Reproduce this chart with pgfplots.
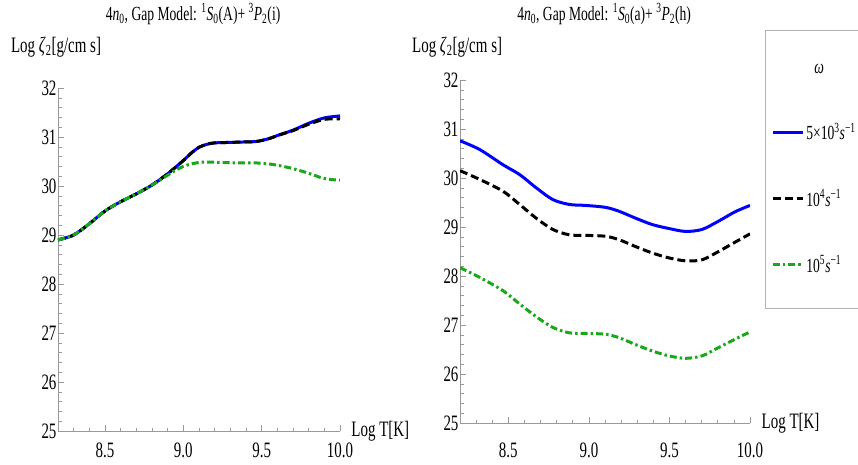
\documentclass[border=0pt]{standalone}
\usepackage{fontspec}
\setmainfont{Liberation Serif}[FakeStretch=0.68]
\usepackage{pgfplots}
\pgfplotsset{compat=1.18}
\definecolor{mgreen}{rgb}{0.1,0.66,0.1}
\pgfplotsset{
 myaxis/.style={
  scale only axis, axis lines=left, axis line style={-, draw=gray!80, line width=0.8pt},
  xmin=8.2, xmax=10, ymin=25, ymax=32,
  xtick={8.5,9,9.5,10},
  minor xtick={8.3,8.4,8.6,8.7,8.8,8.9,9.1,9.2,9.3,9.4,9.6,9.7,9.8,9.9},
  ytick={25,26,27,28,29,30,31,32},
  minor ytick={25.2,25.4,25.6,25.8,26.2,26.4,26.6,26.8,27.2,27.4,27.6,27.8,28.2,28.4,28.6,28.8,29.2,29.4,29.6,29.8,30.2,30.4,30.6,30.8,31.2,31.4,31.6,31.8},
  tick align=inside, tick style={gray!80, line width=0.6pt},
  major tick length=6pt, minor tick length=3.5pt,
  /pgf/number format/assume math mode=true,
  x tick label style={/pgf/number format/.cd, fixed, fixed zerofill, precision=1, /tikz/.cd, inner sep=1pt, yshift=-11pt},
  y tick label style={xshift=2pt},
  tick label style={font=\fontsize{22}{24}\selectfont},
  xlabel={Log T[K]}, ylabel={Log \textit{ζ}\textsubscript{2}[g/cm s]},
  title style={font=\fontsize{20}{22}\selectfont, anchor=center},
  every axis x label/.style={at={(axis description cs:1.028,0)}, anchor=west, font=\fontsize{22}{24}\selectfont},
  every axis y label/.style={at={(axis description cs:-0.007,1.12)}, anchor=center, font=\fontsize{22}{24}\selectfont},
  legend image code/.code={\draw[#1] (0pt,0pt) -- (30pt,0pt);},
 },
 bl/.style={blue, line width=3pt, smooth},
 bk/.style={black, line width=3pt, smooth, dash pattern=on 8pt off 4pt},
 gr/.style={mgreen, line width=3pt, smooth, dash pattern=on 7pt off 3pt on 2.5pt off 3pt},
}
\begin{document}
\begin{tikzpicture}
\useasboundingbox (0pt,0pt) rectangle (858pt,464pt);
\begin{axis}[myaxis, at={(58pt,33pt)}, anchor=south west, width=282pt, height=343pt,
  title={4\textit{n}\textsubscript{0}, Gap Model: \textsuperscript{1}\textit{S}\textsubscript{0}(A)+ \textsuperscript{3}\textit{P}\textsubscript{2}(i)},
  title style={at={(axis description cs:0.479,1.198)}}]
\addplot[bl] coordinates {(8.2,28.9) (8.3,29.0) (8.4,29.23) (8.5,29.49) (8.6,29.68) (8.7,29.84) (8.8,30.02) (8.9,30.25) (9.0,30.52) (9.05,30.67) (9.1,30.79) (9.15,30.85) (9.2,30.88) (9.3,30.89) (9.4,30.9) (9.47,30.91) (9.55,30.97) (9.6,31.03) (9.7,31.14) (9.8,31.28) (9.9,31.39) (10.0,31.43)};
\addplot[bk] coordinates {(8.2,28.9) (8.3,29.0) (8.4,29.23) (8.5,29.49) (8.6,29.68) (8.7,29.84) (8.8,30.02) (8.9,30.25) (9.0,30.52) (9.05,30.67) (9.1,30.79) (9.15,30.85) (9.2,30.88) (9.3,30.89) (9.4,30.9) (9.47,30.91) (9.55,30.97) (9.6,31.03) (9.7,31.13) (9.8,31.26) (9.9,31.36) (10.0,31.37)};
\addplot[gr] coordinates {(8.2,28.9) (8.3,29.0) (8.4,29.23) (8.5,29.49) (8.6,29.68) (8.7,29.84) (8.8,30.02) (8.9,30.22) (8.95,30.32) (9.0,30.4) (9.05,30.45) (9.1,30.48) (9.15,30.49) (9.25,30.48) (9.35,30.47) (9.47,30.47) (9.57,30.44) (9.68,30.37) (9.79,30.27) (9.89,30.16) (9.95,30.13) (10.0,30.12)};
\end{axis}
\begin{axis}[myaxis, at={(460pt,41pt)}, anchor=south west, width=290pt, height=343pt,
  title={4\textit{n}\textsubscript{0}, Gap Model: \textsuperscript{1}\textit{S}\textsubscript{0}(a)+ \textsuperscript{3}\textit{P}\textsubscript{2}(h)},
  title style={at={(axis description cs:0.497,1.175)}},
  every axis y label/.style={at={(axis description cs:-0.01,1.096)}, anchor=center, font=\fontsize{22}{24}\selectfont},
  x tick label style={yshift=-8pt},
  legend style={at={(axis description cs:1.052,1.146)}, anchor=north west, draw=gray!60, line width=0.6pt,
    inner xsep=6pt, inner ysep=32pt, row sep=44pt, font=\fontsize{20}{22}\selectfont, cells={anchor=west}},
  legend cell align=left]
\addlegendimage{empty legend}
\addlegendentry{\hspace{8pt}\textit{ω}}
\addplot[bl] coordinates {(8.2,30.76) (8.323,30.58) (8.467,30.27) (8.57,30.07) (8.673,29.8) (8.776,29.56) (8.879,29.46) (8.982,29.44) (9.105,29.4) (9.188,29.32) (9.29,29.18) (9.393,29.05) (9.496,28.97) (9.599,28.91) (9.702,28.95) (9.805,29.12) (9.907,29.31) (10.0,29.44)};
\addlegendentry{5×10\textsuperscript{3}\textit{s}\textsuperscript{−1}}
\addplot[bk] coordinates {(8.2,30.15) (8.323,29.97) (8.467,29.73) (8.57,29.46) (8.673,29.18) (8.776,28.95) (8.879,28.84) (8.982,28.83) (9.105,28.81) (9.188,28.74) (9.29,28.6) (9.393,28.47) (9.496,28.37) (9.599,28.31) (9.702,28.33) (9.805,28.5) (9.907,28.69) (10.0,28.86)};
\addlegendentry{10\textsuperscript{4}\textit{s}\textsuperscript{−1}}
\addplot[gr] coordinates {(8.2,28.17) (8.323,27.97) (8.467,27.7) (8.57,27.43) (8.673,27.17) (8.776,26.95) (8.879,26.84) (8.982,26.83) (9.105,26.81) (9.188,26.74) (9.29,26.6) (9.393,26.47) (9.496,26.37) (9.599,26.32) (9.702,26.37) (9.805,26.54) (9.907,26.71) (10.0,26.86)};
\addlegendentry{10\textsuperscript{5}\textit{s}\textsuperscript{−1}}
\end{axis}
\end{tikzpicture}
\end{document}
